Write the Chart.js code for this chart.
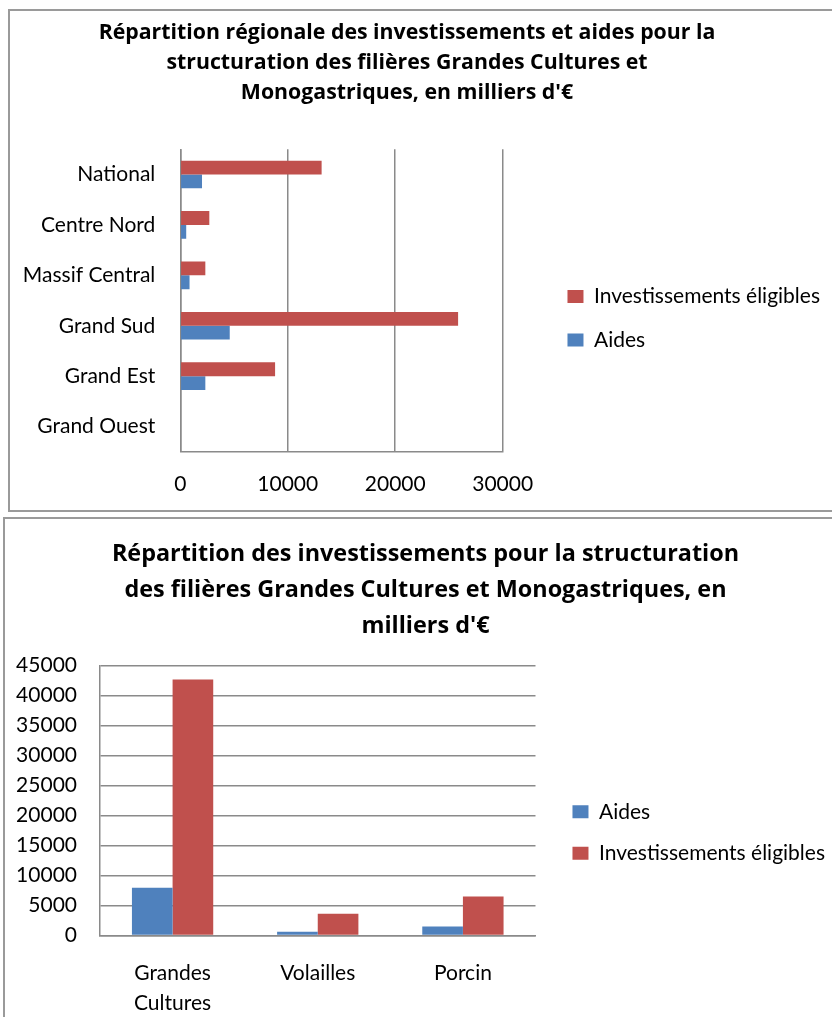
<!DOCTYPE html>
<html lang="fr">
<head>
<meta charset="utf-8">
<title>Répartition des investissements - Grandes Cultures et Monogastriques</title>
<script src="https://cdn.jsdelivr.net/npm/chart.js@4.4.1/dist/chart.umd.min.js"></script>
<style>
  html, body { margin: 0; padding: 0; background: #fff; overflow: hidden; }
  body { width: 832px; height: 1017px; position: relative; }
  .frame { position: absolute; border: 2px solid #9a9a9a; box-sizing: border-box; }
  #frameTop { left: 8px; top: 9px; width: 900px; height: 503px; }
  #frameBottom { left: 3px; top: 517px; width: 900px; height: 600px; }
  .chart-box { position: absolute; }
  #boxTop { left: -16px; top: 12px; width: 880px; height: 505px; }
  #boxBottom { left: 6px; top: 520px; width: 870px; height: 522px; }
</style>
</head>
<body>
<div class="frame" id="frameTop"></div>
<div class="frame" id="frameBottom"></div>
<div class="chart-box" id="boxTop"><canvas id="regionChart"></canvas></div>
<div class="chart-box" id="boxBottom"><canvas id="filiereChart"></canvas></div>
<script>
// data (milliers d'€)
const regions = ['National', 'Centre Nord', 'Massif Central', 'Grand Sud', 'Grand Est', 'Grand Ouest'];
const regionInvest = [13150, 2700, 2330, 25850, 8820, 0];
const regionAides = [2020, 550, 860, 4600, 2330, 0];
const regionTicks = [0, 10000, 20000, 30000];

const filieres = [['Grandes', 'Cultures'], 'Volailles', 'Porcin'];
const filiereAides = [7970, 620, 1500];
const filiereInvest = [42700, 3600, 6500];
const filiereTicks = [0, 5000, 10000, 15000, 20000, 25000, 30000, 35000, 40000, 45000];

const seriesNames = { aides: 'Aides', invest: 'Investissements éligibles' };

const blue = '#4F81BD';
const red = '#C0504D';
const gridGrey = '#8a8a8a';
const labelSize = 21;

Chart.defaults.font.family = 'Lato';
Chart.defaults.color = '#000';

// width of the legend text, so the legend lands where it does in the picture
const measure = document.createElement('canvas').getContext('2d');
measure.font = labelSize + 'px Lato';
const legendTextW = measure.measureText(seriesNames.invest).width;
const legendExtra = 10 + 16 + labelSize / 2; // chart.js legend: +10, box, half font gap

// empty scale on the right: keeps the gap between plot and legend
function gapScale(width) {
  return {
    type: 'linear',
    position: 'right',
    grid: { display: false, drawTicks: false },
    border: { display: false },
    ticks: { display: false },
    afterFit(s) { s.width = Math.max(0, width); }
  };
}

// Top chart: horizontal bars by region
const topLegendPad = 22.3;
const topLegendLeft = 830 - (legendExtra + topLegendPad + legendTextW);
const regionChart = new Chart(document.getElementById('regionChart'), {
  type: 'bar',
  data: {
    labels: regions,
    datasets: [{
      label: seriesNames.invest,
      data: regionInvest,
      backgroundColor: red,
      borderWidth: 0,
      xAxisID: 'x',
      yAxisID: 'y'
    }, {
      label: seriesNames.aides,
      data: regionAides,
      backgroundColor: blue,
      borderWidth: 0,
      xAxisID: 'x',
      yAxisID: 'y'
    }]
  },
  options: {
    indexAxis: 'y',
    responsive: true,
    maintainAspectRatio: false,
    animation: false,
    categoryPercentage: 0.55,
    barPercentage: 1,
    layout: { padding: { left: 0, right: 34, top: 0, bottom: 0 } },
    scales: {
      x: {
        min: 0,
        max: 30000,
        afterBuildTicks(s) { s.ticks = regionTicks.map(v => ({ value: v })); },
        ticks: { padding: 20, font: { size: labelSize }, maxRotation: 0, callback: v => String(v) },
        grid: { color: gridGrey, lineWidth: 1.5, drawTicks: false },
        border: { color: gridGrey, width: 1.5 }
      },
      y: {
        grid: { display: false, drawTicks: false },
        border: { color: gridGrey, width: 1.5 },
        ticks: { padding: 25, font: { size: labelSize } },
        afterFit(s) { s.width = 196.3; }
      },
      gap: gapScale(topLegendLeft - 502.7)
    },
    plugins: {
      title: {
        display: true,
        text: ['Répartition régionale des investissements et aides pour la',
               'structuration des filières Grandes Cultures et',
               'Monogastriques, en milliers d\'€'],
        color: '#000',
        font: { family: 'Open Sans', size: 21.3, weight: 'bold', lineHeight: 30 / 21.3 },
        padding: { top: 6, bottom: 41.3 }
      },
      legend: {
        position: 'right',
        fullSize: false,
        maxWidth: 400,
        title: { display: true, text: ' ', font: { size: 10, lineHeight: 1 }, padding: { top: 12.7, bottom: 12.7 } },
        labels: { boxWidth: 16, boxHeight: 13, padding: topLegendPad, font: { size: labelSize }, color: '#000' }
      },
      tooltip: { enabled: false }
    }
  }
});

// Bottom chart: vertical bars by filière
const botLegendPad = 20.6;
const botLegendLeft = 835 - (legendExtra + botLegendPad + legendTextW);
const filiereChart = new Chart(document.getElementById('filiereChart'), {
  type: 'bar',
  data: {
    labels: filieres,
    datasets: [{
      label: seriesNames.aides,
      data: filiereAides,
      backgroundColor: blue,
      borderWidth: 0,
      xAxisID: 'x',
      yAxisID: 'y'
    }, {
      label: seriesNames.invest,
      data: filiereInvest,
      backgroundColor: red,
      borderWidth: 0,
      xAxisID: 'x',
      yAxisID: 'y'
    }]
  },
  options: {
    responsive: true,
    maintainAspectRatio: false,
    animation: false,
    categoryPercentage: 0.56,
    barPercentage: 1,
    layout: { padding: { left: 10, right: 41, top: 0, bottom: 0 } },
    scales: {
      x: {
        grid: { display: false, drawTicks: false },
        border: { color: gridGrey, width: 1.5 },
        ticks: { padding: 23.3, font: { size: labelSize, lineHeight: 30 / labelSize }, maxRotation: 0 }
      },
      y: {
        min: 0,
        max: 45000,
        afterBuildTicks(s) { s.ticks = filiereTicks.map(v => ({ value: v })); },
        ticks: { padding: 23, font: { size: labelSize }, callback: v => String(v) },
        grid: { color: gridGrey, lineWidth: 1.5, drawTicks: false },
        border: { color: gridGrey, width: 1.5 },
        afterFit(s) { s.width = 84; }
      },
      gap: gapScale(botLegendLeft - 535.5)
    },
    plugins: {
      title: {
        display: true,
        text: ['Répartition des investissements pour la structuration',
               'des filières Grandes Cultures et Monogastriques, en',
               'milliers d\'€'],
        color: '#000',
        font: { family: 'Open Sans', size: 23.4, weight: 'bold', lineHeight: 36 / 23.4 },
        padding: { top: 16, bottom: 21.7 }
      },
      legend: {
        position: 'right',
        fullSize: false,
        maxWidth: 400,
        title: { display: true, text: ' ', font: { size: 10, lineHeight: 1 }, padding: { top: 27, bottom: 27 } },
        labels: { boxWidth: 16, boxHeight: 13, padding: botLegendPad, font: { size: labelSize }, color: '#000' }
      },
      tooltip: { enabled: false }
    }
  }
});
</script>
</body>
</html>
